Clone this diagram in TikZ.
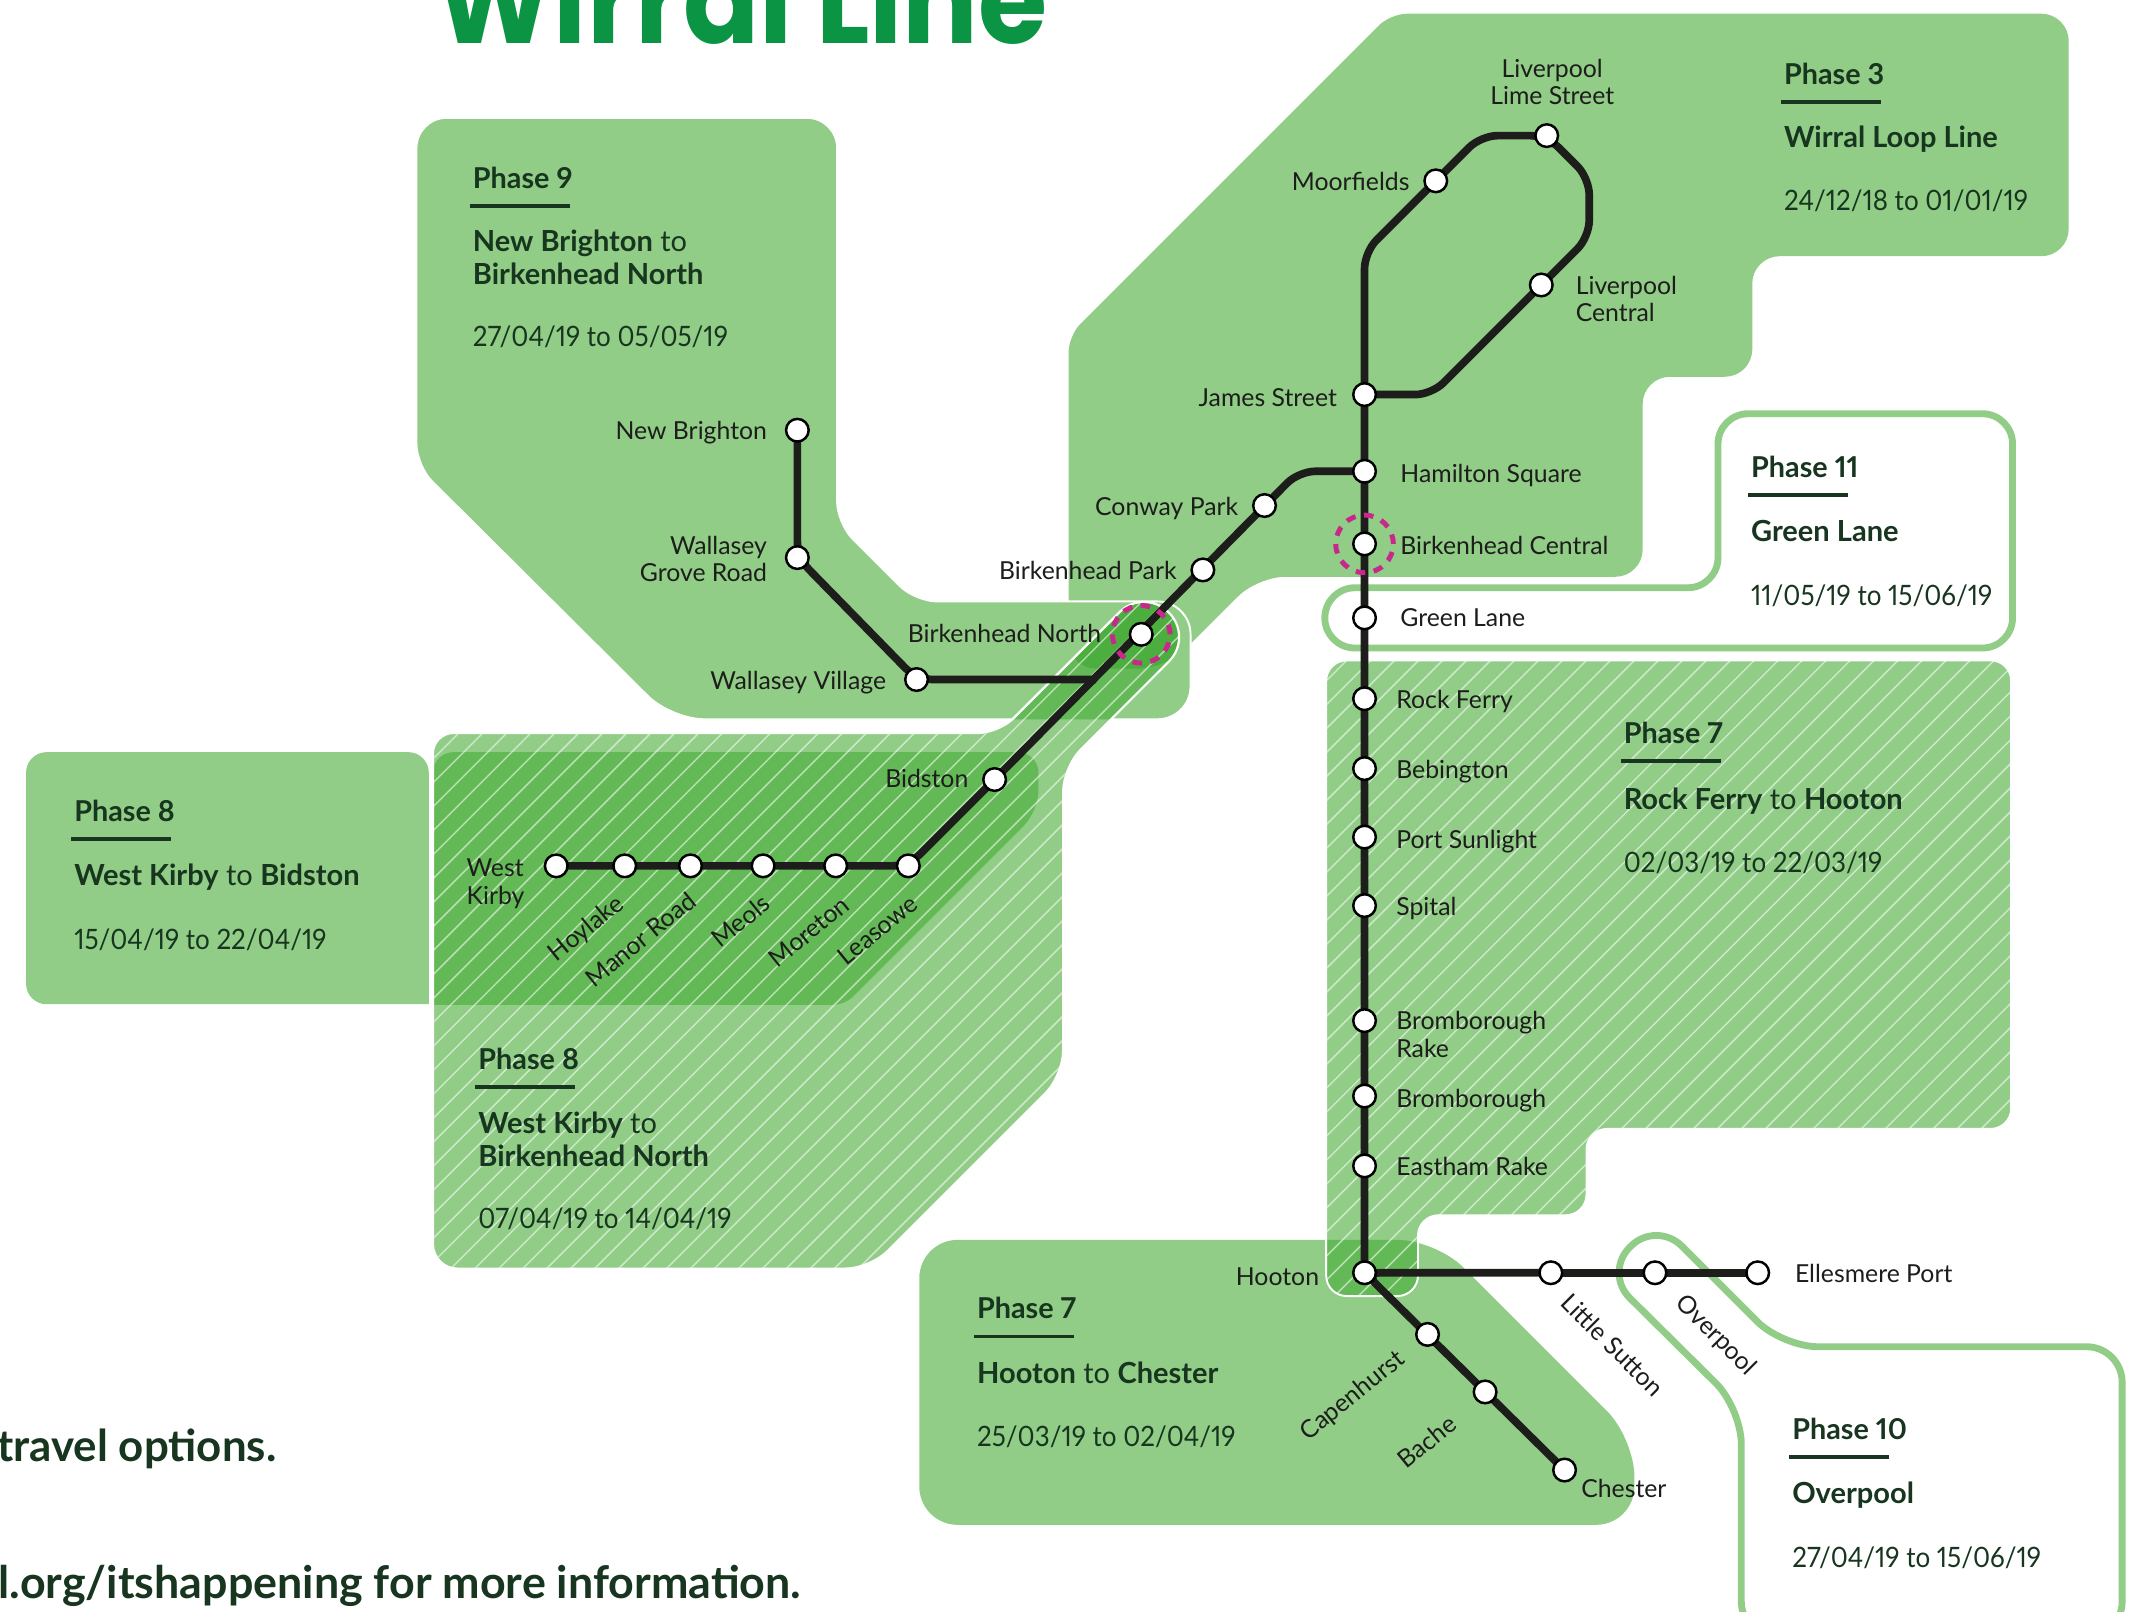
\documentclass[tikz,border=0pt]{standalone}
\usepackage{fontspec}
\setmainfont{Lato}[Numbers=Proportional]
\newfontfamily\titlefont{Poppins}[FakeStretch=0.92]
\newfontfamily\datefont{Lato}[Numbers=Proportional,FakeStretch=0.925]
\pgfdeclarelayer{bg}
\pgfdeclarelayer{lines}
\pgfsetlayers{bg,lines,main}
\definecolor{lightg}{HTML}{91CD87}
\definecolor{midg}{HTML}{63B955}
\definecolor{darkg}{HTML}{4CAE3F}
\definecolor{inkg}{HTML}{17351F}
\definecolor{railk}{HTML}{1D1D1B}
\definecolor{magen}{HTML}{C8288B}
\definecolor{titleg}{HTML}{0A9444}
\tikzset{
 rail/.style={draw=railk,line width=5.6pt,line join=round,rounded corners=12pt},
 stn/.style={circle,draw=black,line width=1.8pt,fill=white,minimum size=16.5pt,inner sep=0pt},
 ring/.style={circle,draw=magen,line width=3.6pt,dash pattern=on 7pt off 6.2pt,minimum size=42pt,inner sep=0pt},
 lab/.style={text=railk,font=\fontsize{18.1}{20}\selectfont,inner sep=0pt},
 labr/.style={lab,anchor=mid east,yshift=-4.5pt},
 labl/.style={lab,anchor=mid west,yshift=-4.5pt},
 rotr/.style={lab,anchor=mid east,rotate=#1},
 rotl/.style={lab,anchor=mid west,rotate=#1},
 ptitle/.style={text=inkg,font=\fontsize{21}{24}\selectfont\bfseries,inner sep=0pt,anchor=base west},
 pbody/.style={text=inkg,font=\fontsize{21.2}{24}\selectfont,inner sep=0pt,anchor=base west,align=left},
 pdate/.style={text=inkg,font=\fontsize{20.5}{24}\selectfont\datefont,inner sep=0pt,anchor=base west},
 prule/.style={draw=inkg,line width=2.6pt},
 hatch/.style={draw=white,draw opacity=.55,line width=1.1pt},
 note/.style={text=inkg,font=\fontsize{32}{36}\selectfont\bfseries,anchor=base east,inner sep=0pt},
}
\def\pThree{(780,350) [rounded corners=12pt] -- (780,245) -- (1015,10) [rounded corners=20pt] -- (1510,10) -- (1510,187) -- (1279,187) -- (1279,275) -- (1199,275) -- (1199,421) -- (918,421) -- (851,488) -- (780,488) -- cycle}
\def\pNine{(304,200) [rounded corners=22pt] -- (304,86) -- (611,86) [rounded corners=16pt] -- (611,382) -- (668,439) [rounded corners=24pt] -- (869,439) -- (869,525) -- (490,525) [rounded corners=16pt] -- (304,340) -- cycle}
\def\pEightH{(316,700) [rounded corners=15pt] -- (316,535) -- (729,535) [rounded corners=25pt] -- (835,429) -- (871,465) [rounded corners=18pt] -- (776,560) -- (776,785) -- (635,926) -- (316,926) -- cycle}
\def\pEightM{(316,650) [rounded corners=15pt] -- (316,549) -- (758,549) -- (758,592) [rounded corners=8pt] -- (616.5,733.5) [sharp corners] -- (316,733.5) -- cycle}
\def\pEightL{(100,549) [rounded corners=15pt] -- (313,549) [sharp corners] -- (313,733) [rounded corners=15pt] -- (19,733) -- (19,549) -- cycle}
\def\pSevenU{(968,700) [rounded corners=15pt] -- (968,482) -- (1468,482) -- (1468,824) -- (1158,824) -- (1158,887) -- (1035,887) -- (1035,946) -- (968,946) -- cycle}
\def\pSevenL{(800,905) [rounded corners=28pt] -- (1048,905) -- (1193,1050) -- (1193,1113) -- (671,1113) -- (671,905) -- cycle}
\def\pEleven{(1254,360) [rounded corners=22pt] -- (1254,302) -- (1469,302) -- (1469,473) -- (967,473) -- (967,429) -- (1254,429) -- cycle}
\def\pTen{(1271,1100) [rounded corners=26pt] -- (1271,1028) -- (1171,929) -- (1209,891) -- (1301,983) -- (1549,983) -- (1549,1195) -- (1271,1195) -- cycle}
\newcommand\hatchfill{\foreach \c in {800,817.5,...,2400}{\draw[hatch] (\c,0) -- (0,\c);}}
\newcommand\phasehead[4]{\node[ptitle] (#1) at (#2,#3+1.5) {#4};\draw[prule] (#2-2,#3+14.5) -- (#2+71,#3+14.5);}
\begin{document}
\begin{tikzpicture}[x=1pt,y=-1pt]
\useasboundingbox (0,0) rectangle (1568.6,1176);
\clip (0,0) rectangle (1568.6,1176);
\begin{pgfonlayer}{bg}
\fill[white] (0,0) rectangle (1568.6,1176);
% phase 3 and 9
\fill[lightg] \pThree;
\path[fill=lightg,draw=white,line width=1.4pt] \pNine;
\fill[lightg] \pEightL;
\fill[lightg] \pEightH;
\begin{scope}
 \clip \pEightH;
 \fill[midg] \pNine;
 \fill[midg] \pEightM;
 \begin{scope}
  \clip \pThree;
  \fill[darkg] \pNine;
 \end{scope}
 \hatchfill
\end{scope}
\draw[white,line width=1.6pt] \pEightH;
% phase 7
\fill[lightg] \pSevenL;
\fill[lightg] \pSevenU;
\begin{scope}
 \clip \pSevenU;
 \fill[midg] \pSevenL;
 \hatchfill
\end{scope}
\draw[white,line width=1.4pt] \pSevenU;
% outlined phases
\path[fill=white,draw=lightg,line width=5pt] \pEleven;
\draw[lightg,line width=5pt] \pTen;
\end{pgfonlayer}
% title and notes
\node[text=titleg,font=\fontsize{89}{90}\selectfont\titlefont\bfseries,anchor=base west,inner sep=0pt] (title) at (318,32) {Wirral Line};
\node[note] (note1) at (202,1067) {travel options.};
\node[note,font=\fontsize{32.7}{36}\selectfont\bfseries] (note2) at (585,1167) {l.org/itshappening for more information.};
% stations
\foreach \n/\x/\y in {
 nb/582/314,grove/582/407,wv/669/496,wk/406/632,hoy/456/632,manor/504/632,meols/557/632,more/610/632,leas/663/632,
 bid/726/569,bn/833/463,bp/878/416,cp/923/369,ham/996/344,bc/996/397,gl/996/451,js/996/288,moor/1048/132,lime/1129/99,lc/1125/208,
 rf/996/510,beb/996/561,ps/996/611,sp/996/661,br/996/745,bro/996/800,er/996/851,hoo/996/929,
 ls/1132/929,over/1208/929,ep/1283/929,cap/1042/974,bac/1084/1016,che/1142/1073}
 {\node[stn] (\n) at (\x,\y) {};}
\node[ring] (ring1) at (bn) {};
\node[ring] (ring2) at (bc) {};
\coordinate (j1) at (800,496);
\begin{pgfonlayer}{lines}
\draw[rail] (hoo.center) -- (js.center) -- (996,184) -- (1081,99) -- (lime.center) -- (1160,130) -- (1160,173) -- (1045,288) -- (js.center);
\draw[rail] (ham.center) -- (948,344) -- (bid.center) -- (leas.center) -- (wk.center);
\draw[rail] (nb.center) -- (grove.center) -- (wv.center) -- (j1);
\draw[rail] (ls.center) -- (hoo.center) -- (che.center);
\draw[rail] (ls.center) -- (ep.center);
\end{pgfonlayer}
% station labels
\node[labr] (lnb) at (560,314) {New Brighton};
\node[lab,anchor=east,align=right] (lgr) at (560,408) {Wallasey\\Grove Road};
\node[labr] (lwv) at (647,496) {Wallasey Village};
\node[labr] (lbn) at (804,462) {Birkenhead North};
\node[labr] (lbp) at (859,416) {Birkenhead Park};
\node[labr] (lcp) at (904,369) {Conway Park};
\node[labr] (ljs) at (976,290) {James Street};
\node[labr] (lmo) at (1029,132) {Moorfields};
\node[lab,align=center] (lli) at (1133,60) {Liverpool\\Lime Street};
\node[lab,anchor=west,align=left] (llc) at (1150,218) {Liverpool\\Central};
\node[labl] (lha) at (1022,345) {Hamilton Square};
\node[labl] (lbc) at (1022,398) {Birkenhead Central};
\node[labl] (lgl) at (1022,450) {Green Lane};
\node[labl] (lrf) at (1019,510) {Rock Ferry};
\node[labl] (lbe) at (1019,561) {Bebington};
\node[labl] (lps) at (1019,612) {Port Sunlight};
\node[labl] (lsp) at (1019,661) {Spital};
\node[lab,anchor=west,align=left] (lbr) at (1019,755) {Bromborough\\Rake};
\node[labl] (lbo) at (1019,801) {Bromborough};
\node[labl] (ler) at (1019,851) {Eastham Rake};
\node[labr] (lho) at (963,931) {Hooton};
\node[labl] (lep) at (1310,929) {Ellesmere Port};
\node[labl] (lch) at (1154,1086) {Chester};
\node[labr] (lbi) at (707,568) {Bidston};
\node[lab,anchor=east,align=left] (lwk) at (383,645) {West\\Kirby};
\node[rotr=39] (lhy) at (455,660) {Hoylake};
\node[rotr=39] (lma) at (508,658) {Manor Road};
\node[rotr=39] (lme) at (562,660) {Meols};
\node[rotr=39] (lmr) at (620,661) {Moreton};
\node[rotr=39] (lle) at (670,660) {Leasowe};
\node[rotr=39] (lca) at (1025,992) {Capenhurst};
\node[rotr=39] (lba) at (1063,1040) {Bache};
\node[rotl=-45] (lls) at (1140,950) {Little Sutton};
\node[rotl=-45] (lov) at (1224,950) {Overpool};
% phase blocks
\phasehead{t9}{345}{136}{Phase 9}
\node[pbody] (b9) at (345,207.5) {\textbf{New Brighton} to\\\textbf{Birkenhead North}};
\node[pdate] (d9) at (345,253) {27/04/19 to 05/05/19};
\phasehead{t3}{1302}{60}{Phase 3}
\node[pbody] (b3) at (1302,107.5) {\textbf{Wirral Loop Line}};
\node[pdate] (d3) at (1302,153.5) {24/12/18 to 01/01/19};
\phasehead{t11}{1278}{347}{Phase 11}
\node[pbody] (b11) at (1278,395.5) {\textbf{Green Lane}};
\node[pdate] (d11) at (1278,442) {11/05/19 to 15/06/19};
\phasehead{t7a}{1185}{541}{Phase 7}
\node[pbody] (b7a) at (1185,590.5) {\textbf{Rock Ferry} to \textbf{Hooton}};
\node[pdate] (d7a) at (1185,637) {02/03/19 to 22/03/19};
\phasehead{t8a}{54}{598}{Phase 8}
\node[pbody] (b8a) at (54,646.5) {\textbf{West Kirby} to \textbf{Bidston}};
\node[pdate] (d8a) at (54,693) {15/04/19 to 22/04/19};
\phasehead{t8b}{349}{779}{Phase 8}
\node[pbody] (b8b) at (349,851.5) {\textbf{West Kirby} to\\\textbf{Birkenhead North}};
\node[pdate] (d8b) at (349,897) {07/04/19 to 14/04/19};
\phasehead{t7b}{713}{961}{Phase 7}
\node[pbody] (b7b) at (713,1009.5) {\textbf{Hooton} to \textbf{Chester}};
\node[pdate] (d7b) at (713,1056) {25/03/19 to 02/04/19};
\phasehead{t10}{1308}{1049}{Phase 10}
\node[pbody] (b10) at (1308,1097.5) {\textbf{Overpool}};
\node[pdate] (d10) at (1308,1144) {27/04/19 to 15/06/19};
\end{tikzpicture}
\end{document}
